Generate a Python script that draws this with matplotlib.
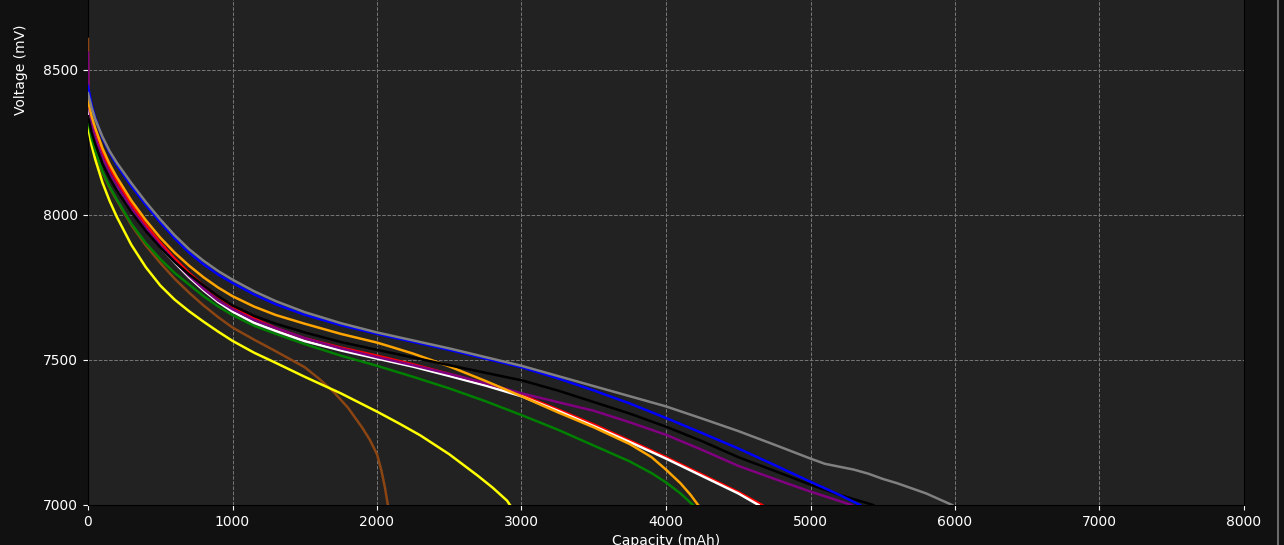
import matplotlib
matplotlib.use("Agg")
import matplotlib.pyplot as plt
from matplotlib.lines import Line2D

# discharge curves: capacity (mAh) -> voltage (mV)
head_cap = [0, 25, 50, 100, 150, 200, 300, 400, 500, 600, 700, 800, 900, 1000,
            1150, 1300, 1500, 1750, 2000]

gray_cap = head_cap + [2500, 2750, 3000, 3250, 3500, 3750, 4000, 4250, 4500, 4750, 5000,
                       5100, 5200, 5300, 5400, 5500, 5600, 5800, 5980]
gray_mv = [8420, 8370, 8330, 8270, 8220, 8180, 8110, 8045, 7985, 7930, 7882, 7842, 7807, 7777,
           7737, 7703, 7665, 7627, 7595,
           7540, 7510, 7480, 7445, 7410, 7375, 7340, 7298, 7255, 7208, 7160,
           7142, 7132, 7122, 7108, 7090, 7075, 7040, 7000]

blue_cap = head_cap + [2500, 2750, 3000, 3250, 3500, 3750, 4000, 4250, 4500, 4750, 5000,
                       5200, 5343]
blue_mv = [8445, 8380, 8335, 8265, 8215, 8172, 8100, 8035, 7975, 7920, 7870, 7830, 7795, 7766,
           7726, 7692, 7656, 7620, 7590,
           7535, 7505, 7475, 7437, 7395, 7350, 7300, 7248, 7195, 7138, 7080,
           7035, 7000]

orange_cap = head_cap + [2100, 2250, 2500, 2750, 3000, 3250, 3500, 3750, 3900, 4000, 4100,
                         4170, 4222]
orange_mv = [8395, 8340, 8300, 8230, 8175, 8130, 8050, 7982, 7922, 7870, 7825, 7785, 7750, 7720,
             7684, 7655, 7625, 7590, 7560,
             7545, 7522, 7478, 7428, 7375, 7320, 7268, 7210, 7165, 7122, 7075,
             7035, 7000]

black_cap = head_cap + [2500, 3000, 3250, 3500, 3750, 4000, 4250, 4500, 4750, 5000, 5200, 5434]
black_mv = [8340, 8285, 8245, 8178, 8128, 8085, 8010, 7945, 7888, 7838, 7795, 7757, 7720, 7688,
            7652, 7625, 7595, 7562, 7535,
            7482, 7430, 7395, 7355, 7315, 7270, 7220, 7165, 7118, 7070, 7035, 7000]

red_cap = head_cap + [2250, 2500, 2750, 3000, 3250, 3500, 3750, 4000, 4250, 4500, 4665]
red_mv = [8385, 8330, 8288, 8218, 8163, 8117, 8037, 7967, 7905, 7850, 7800, 7757, 7718, 7685,
          7643, 7610, 7575, 7543, 7515,
          7485, 7452, 7418, 7380, 7330, 7278, 7222, 7165, 7105, 7045, 7000]

white_cap = head_cap + [2250, 2500, 2750, 3000, 3250, 3500, 3750, 4000, 4250, 4500, 4640]
white_mv = [8365, 8305, 8262, 8192, 8138, 8095, 8017, 7950, 7890, 7836, 7785, 7740, 7700, 7667,
            7628, 7600, 7565, 7533, 7505,
            7477, 7445, 7412, 7375, 7325, 7272, 7217, 7160, 7100, 7040, 7000]

purple_cap = [0, 5] + head_cap[1:] + [2250, 2500, 2750, 3000, 3250, 3500, 3750, 4000, 4250,
                                       4500, 4750, 5000, 5150, 5285]
purple_mv = [8560, 8380, 8310, 8265, 8196, 8143, 8100, 8022, 7955, 7895, 7840, 7790, 7745, 7705,
             7675, 7638, 7610, 7575, 7540, 7510,
             7482, 7452, 7420, 7385, 7355, 7325, 7285, 7242, 7190, 7135, 7090, 7046,
             7022, 7000]

green_cap = head_cap + [2250, 2500, 2750, 3000, 3250, 3500, 3750, 3900, 4000, 4100, 4187]
green_mv = [8330, 8265, 8222, 8150, 8097, 8053, 7970, 7903, 7848, 7800, 7760, 7720, 7685, 7655,
            7618, 7590, 7555, 7515, 7480,
            7442, 7402, 7358, 7310, 7260, 7205, 7150, 7110, 7078, 7040, 7000]

brown_cap = [0, 5, 25, 50, 100, 150, 200, 300, 400, 500, 600, 700, 800, 900, 1000, 1150, 1300,
             1500, 1600, 1700, 1800, 1900, 1950, 2000, 2030, 2055, 2075]
brown_mv = [8607, 8330, 8260, 8215, 8145, 8093, 8050, 7965, 7895, 7835, 7780, 7732, 7688, 7648,
            7612, 7570, 7530, 7475, 7435, 7390, 7335, 7265, 7225, 7175, 7120, 7060, 7000]

yellow_cap = head_cap + [2150, 2300, 2500, 2700, 2800, 2900, 2920]
yellow_mv = [8305, 8240, 8192, 8112, 8048, 7993, 7897, 7820, 7757, 7708, 7668, 7632, 7598, 7566,
             7525, 7490, 7442, 7385, 7322,
             7282, 7240, 7175, 7100, 7060, 7015, 7000]

series = [
    (brown_cap, brown_mv, "#8B4513"),
    (yellow_cap, yellow_mv, "yellow"),
    (green_cap, green_mv, "green"),
    (red_cap, red_mv, "red"),
    (white_cap, white_mv, "white"),
    (purple_cap, purple_mv, "purple"),
    (orange_cap, orange_mv, "orange"),
    (black_cap, black_mv, "black"),
    (blue_cap, blue_mv, "blue"),
    (gray_cap, gray_mv, "gray"),
]

fig = plt.figure(figsize=(12.84, 5.45), dpi=100, facecolor="#111111")
# the axes run past the top edge, as in the cropped original
ax = fig.add_axes([88 / 1284, 40 / 545, 1156 / 1284, 870 / 545])
ax.set_facecolor("#222222")

for cap, mv, col in series:
    ax.plot(cap, mv, color=col, linewidth=1.8, zorder=3)

ax.set_xlim(0, 8000)
ax.set_ylim(7000, 10000)
ax.set_xticks(range(0, 8001, 1000))
ax.set_yticks(range(7000, 8501, 500))
ax.grid(True, color="#777777", linestyle="--", linewidth=0.7)
ax.tick_params(colors="white", labelsize=10)
for sp in ax.spines.values():
    sp.set_color("black")
ax.set_xlabel("Capacity (mAh)", color="white", fontsize=10)
ax.set_ylabel("Voltage (mV)", color="white", fontsize=10)
ax.yaxis.set_label_coords(-0.052, 0.5)

# thin divider at the right edge
fig.add_artist(Line2D([1277.5 / 1284, 1277.5 / 1284], [0, 1], color="#6a6a6a",
                      linewidth=1.5, transform=fig.transFigure))

fig.savefig("out.png", dpi=100, facecolor=fig.get_facecolor())
